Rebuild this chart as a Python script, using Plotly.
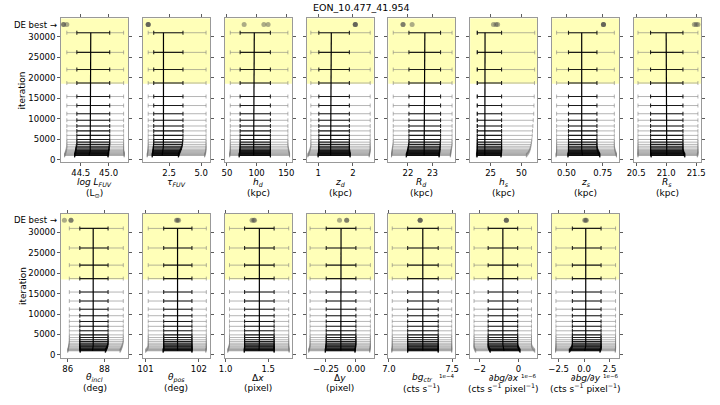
import plotly.graph_objects as go

# ---------------- data ----------------
TITLE = "EON_10.477_41.954"
ITER = [1000, 1150, 1300, 1500, 1700, 1950, 2200, 2500, 2850, 3250, 3700, 4250, 4900,
        5900, 7000, 8200, 9600, 11200, 13200, 15400, 18700, 22000, 26200, 31000]
DE_ITER = 33000
CONVERGED_FROM = 18500
Y_TICKS = [0, 5000, 10000, 15000, 20000, 25000, 30000]
Y_TICKTEXT = ["0", "5000", "10000", "15000", "20000", "25000", "30000"]

# log L_FUV
LFUV_MED = [44.65, 44.65, 44.66, 44.66, 44.66, 44.67, 44.67, 44.67, 44.67, 44.68, 44.68, 44.68, 44.68,
            44.68, 44.68, 44.68, 44.68, 44.68, 44.68, 44.68, 44.68, 44.68, 44.68, 44.68]
LFUV_LO1 = [44.39, 44.39, 44.40, 44.40, 44.40, 44.41, 44.41, 44.41, 44.42, 44.42, 44.43, 44.43, 44.43,
            44.43, 44.43, 44.43, 44.43, 44.43, 44.43, 44.43, 44.43, 44.43, 44.43, 44.43]
LFUV_HI1 = [44.99, 44.99, 44.99, 45.00, 45.00, 45.00, 45.00, 45.01, 45.01, 45.01, 45.02, 45.02, 45.02,
            45.02, 45.02, 45.02, 45.02, 45.02, 45.02, 45.02, 45.02, 45.02, 45.02, 45.02]
LFUV_LO2 = [44.21, 44.21, 44.22, 44.22, 44.23, 44.23, 44.24, 44.24, 44.25, 44.25, 44.25, 44.25, 44.25,
            44.25, 44.25, 44.25, 44.25, 44.25, 44.25, 44.25, 44.25, 44.25, 44.25, 44.25]
LFUV_HI2 = [45.28, 45.28, 45.28, 45.28, 45.28, 45.27, 45.27, 45.27, 45.27, 45.27, 45.27, 45.27, 45.27,
            45.27, 45.27, 45.27, 45.27, 45.27, 45.27, 45.27, 45.27, 45.27, 45.27, 45.27]
LFUV_DE = [44.19, 44.19, 44.25]

# tau_FUV
TAU_MED = [1.96, 1.97, 1.98, 1.99, 2.00, 2.01, 2.02, 2.03, 2.04, 2.05, 2.06, 2.06, 2.06,
           2.06, 2.06, 2.06, 2.06, 2.06, 2.06, 2.06, 2.06, 2.06, 2.06, 2.06]
TAU_LO1 = [1.18, 1.19, 1.20, 1.21, 1.22, 1.24, 1.25, 1.26, 1.27, 1.28, 1.29, 1.30, 1.30,
           1.30, 1.30, 1.30, 1.30, 1.30, 1.30, 1.30, 1.30, 1.30, 1.30, 1.30]
TAU_HI1 = [3.22, 3.24, 3.26, 3.28, 3.31, 3.34, 3.38, 3.42, 3.46, 3.50, 3.53, 3.55, 3.57,
           3.58, 3.58, 3.58, 3.58, 3.58, 3.58, 3.58, 3.58, 3.58, 3.58, 3.58]
TAU_LO2 = [0.79, 0.80, 0.81, 0.82, 0.83, 0.84, 0.85, 0.86, 0.86, 0.87, 0.87, 0.87, 0.87,
           0.87, 0.87, 0.87, 0.87, 0.87, 0.87, 0.87, 0.87, 0.87, 0.87, 0.87]
TAU_HI2 = [5.26, 5.28, 5.30, 5.32, 5.34, 5.35, 5.36, 5.37, 5.38, 5.38, 5.38, 5.38, 5.38,
           5.38, 5.38, 5.38, 5.38, 5.38, 5.38, 5.38, 5.38, 5.38, 5.38, 5.38]
TAU_DE = [0.87, 0.87, 0.87]

# h_d
HD_MED = [95.0, 95.0, 95.2, 95.4, 95.6, 95.8, 96.0, 96.1, 96.1, 96.1, 96.1, 96.1, 96.1,
          96.1, 96.1, 96.1, 96.1, 96.1, 96.1, 96.1, 96.1, 96.1, 96.1, 96.1]
HD_LO1 = [70.6, 70.8, 71.0, 71.2, 71.4, 71.6, 71.8, 72.0, 72.2, 72.2, 72.2, 72.2, 72.2,
          72.2, 72.2, 72.2, 72.2, 72.2, 72.2, 72.2, 72.2, 72.2, 72.2, 72.2]
HD_HI1 = [123.3, 123.3, 123.3, 123.3, 123.3, 123.3, 123.3, 123.3, 123.3, 123.3, 123.3, 123.3, 123.3,
          123.3, 123.3, 123.3, 123.3, 123.3, 123.3, 123.3, 123.3, 123.3, 123.3, 123.3]
HD_LO2 = [54.5, 54.6, 54.8, 55.0, 55.2, 55.4, 55.6, 55.6, 55.6, 55.6, 55.6, 55.6, 55.6,
          55.6, 55.6, 55.6, 55.6, 55.6, 55.6, 55.6, 55.6, 55.6, 55.6, 55.6]
HD_HI2 = [155.6, 155.6, 155.4, 155.2, 155.0, 154.6, 154.2, 153.8, 153.4, 153.0, 152.8, 152.8, 152.8,
          152.8, 152.8, 152.8, 152.8, 152.8, 152.8, 152.8, 152.8, 152.8, 152.8, 152.8]
HD_DE = [79.0, 112.3, 119.4]

# z_d
ZD_MED = [1.36, 1.36, 1.36, 1.37, 1.37, 1.37, 1.38, 1.38, 1.38, 1.38, 1.38, 1.38, 1.38,
          1.38, 1.38, 1.38, 1.38, 1.38, 1.38, 1.38, 1.38, 1.38, 1.38, 1.38]
ZD_LO1 = [1.00, 1.00, 1.01, 1.01, 1.01, 1.02, 1.02, 1.02, 1.02, 1.02, 1.02, 1.02, 1.02,
          1.02, 1.02, 1.02, 1.02, 1.02, 1.02, 1.02, 1.02, 1.02, 1.02, 1.02]
ZD_HI1 = [1.92, 1.92, 1.92, 1.91, 1.91, 1.91, 1.90, 1.90, 1.90, 1.90, 1.90, 1.90, 1.90,
          1.90, 1.90, 1.90, 1.90, 1.90, 1.90, 1.90, 1.90, 1.90, 1.90, 1.90]
ZD_LO2 = [0.70, 0.71, 0.72, 0.73, 0.74, 0.75, 0.76, 0.77, 0.78, 0.79, 0.79, 0.79, 0.79,
          0.79, 0.79, 0.79, 0.79, 0.79, 0.79, 0.79, 0.79, 0.79, 0.79, 0.79]
ZD_HI2 = [2.47, 2.47, 2.48, 2.48, 2.49, 2.49, 2.50, 2.50, 2.50, 2.50, 2.50, 2.50, 2.50,
          2.50, 2.50, 2.50, 2.50, 2.50, 2.50, 2.50, 2.50, 2.50, 2.50, 2.50]
ZD_DE = [2.07, 2.07, 2.07]

# R_d
RD_MED = [22.66, 22.66, 22.67, 22.67, 22.68, 22.68, 22.69, 22.69, 22.69, 22.69, 22.69, 22.69, 22.69,
          22.69, 22.69, 22.69, 22.69, 22.69, 22.69, 22.69, 22.69, 22.69, 22.69, 22.69]
RD_LO1 = [21.93, 21.94, 21.95, 21.96, 21.97, 21.98, 21.99, 22.00, 22.01, 22.02, 22.03, 22.04, 22.04,
          22.04, 22.04, 22.04, 22.04, 22.04, 22.04, 22.04, 22.04, 22.04, 22.04, 22.04]
RD_HI1 = [23.27, 23.27, 23.28, 23.28, 23.29, 23.29, 23.30, 23.30, 23.31, 23.31, 23.32, 23.32, 23.33,
          23.33, 23.33, 23.33, 23.33, 23.33, 23.33, 23.33, 23.33, 23.33, 23.33, 23.33]
RD_LO2 = [21.33, 21.33, 21.34, 21.34, 21.35, 21.35, 21.36, 21.36, 21.37, 21.38, 21.39, 21.40, 21.40,
          21.40, 21.40, 21.40, 21.40, 21.40, 21.40, 21.40, 21.40, 21.40, 21.40, 21.40]
RD_HI2 = [23.73, 23.73, 23.74, 23.74, 23.75, 23.75, 23.76, 23.77, 23.78, 23.79, 23.80, 23.80, 23.80,
          23.80, 23.80, 23.80, 23.80, 23.80, 23.80, 23.80, 23.80, 23.80, 23.80, 23.80]
RD_DE = [21.80, 21.80, 22.17]

# h_s
HS_MED = [20.3, 20.3, 20.4, 20.4, 20.5, 20.5, 20.5, 20.5, 20.5, 20.5, 20.5, 20.5, 20.5,
          20.5, 20.5, 20.5, 20.5, 20.5, 20.5, 20.5, 20.5, 20.5, 20.5, 20.5]
HS_LO1 = [14.0, 14.0, 14.1, 14.1, 14.2, 14.2, 14.3, 14.3, 14.3, 14.3, 14.3, 14.3, 14.3,
          14.3, 14.3, 14.3, 14.3, 14.3, 14.3, 14.3, 14.3, 14.3, 14.3, 14.3]
HS_HI1 = [33.4, 33.5, 33.6, 33.7, 33.8, 33.9, 33.9, 33.9, 33.9, 33.9, 33.9, 33.9, 33.9,
          33.9, 33.9, 33.9, 33.9, 33.9, 33.9, 33.9, 33.9, 33.9, 33.9, 33.9]
HS_LO2 = [13.5, 13.5, 13.6, 13.6, 13.7, 13.7, 13.7, 13.7, 13.7, 13.7, 13.7, 13.7, 13.7,
          13.7, 13.7, 13.7, 13.7, 13.7, 13.7, 13.7, 13.7, 13.7, 13.7, 13.7]
HS_HI2 = [54.0, 54.3, 54.8, 55.3, 55.8, 56.2, 56.6, 57.0, 57.3, 57.6, 57.9, 58.2, 58.5,
          58.8, 59.0, 59.3, 59.6, 60.0, 60.2, 60.4, 60.6, 60.7, 60.8, 60.8]
HS_DE = [27.3, 29.4, 30.7]

# z_s
ZS_MED = [0.610, 0.609, 0.608, 0.607, 0.606, 0.605, 0.605, 0.605, 0.605, 0.605, 0.605, 0.605, 0.605,
          0.605, 0.605, 0.605, 0.605, 0.605, 0.605, 0.605, 0.605, 0.605, 0.605, 0.605]
ZS_LO1 = [0.510, 0.511, 0.512, 0.513, 0.514, 0.514, 0.514, 0.514, 0.514, 0.514, 0.514, 0.514, 0.514,
          0.514, 0.514, 0.514, 0.514, 0.514, 0.514, 0.514, 0.514, 0.514, 0.514, 0.514]
ZS_HI1 = [0.730, 0.729, 0.727, 0.725, 0.722, 0.719, 0.716, 0.713, 0.711, 0.710, 0.710, 0.710, 0.710,
          0.710, 0.710, 0.710, 0.710, 0.710, 0.710, 0.710, 0.710, 0.710, 0.710, 0.710]
ZS_LO2 = [0.428, 0.429, 0.430, 0.431, 0.432, 0.432, 0.432, 0.432, 0.432, 0.432, 0.432, 0.432, 0.432,
          0.432, 0.432, 0.432, 0.432, 0.432, 0.432, 0.432, 0.432, 0.432, 0.432, 0.432]
ZS_HI2 = [0.845, 0.844, 0.843, 0.841, 0.839, 0.837, 0.835, 0.833, 0.831, 0.830, 0.830, 0.830, 0.830,
          0.830, 0.830, 0.830, 0.830, 0.830, 0.830, 0.830, 0.830, 0.830, 0.830, 0.830]
ZS_DE = [0.755, 0.755, 0.755]

# R_s
RS_MED = [21.01, 21.01, 21.01, 21.00, 21.00, 21.00, 21.00, 21.00, 21.00, 21.00, 21.00, 21.00, 21.00,
          21.00, 21.00, 21.00, 21.00, 21.00, 21.00, 21.00, 21.00, 21.00, 21.00, 21.00]
RS_LO1 = [20.75, 20.75, 20.74, 20.74, 20.74, 20.74, 20.74, 20.74, 20.74, 20.74, 20.74, 20.74, 20.74,
          20.74, 20.74, 20.74, 20.74, 20.74, 20.74, 20.74, 20.74, 20.74, 20.74, 20.74]
RS_HI1 = [21.31, 21.31, 21.30, 21.30, 21.29, 21.29, 21.28, 21.28, 21.28, 21.28, 21.28, 21.28, 21.28,
          21.28, 21.28, 21.28, 21.28, 21.28, 21.28, 21.28, 21.28, 21.28, 21.28, 21.28]
RS_LO2 = [20.53, 20.53, 20.53, 20.53, 20.53, 20.53, 20.53, 20.53, 20.53, 20.53, 20.53, 20.53, 20.53,
          20.53, 20.53, 20.53, 20.53, 20.53, 20.53, 20.53, 20.53, 20.53, 20.53, 20.53]
RS_HI2 = [21.52, 21.52, 21.53, 21.53, 21.53, 21.53, 21.53, 21.53, 21.53, 21.53, 21.53, 21.53, 21.53,
          21.53, 21.53, 21.53, 21.53, 21.53, 21.53, 21.53, 21.53, 21.53, 21.53, 21.53]
RS_DE = [21.47, 21.50, 21.53]

# theta_incl
TI_MED = [87.35, 87.36, 87.37, 87.38, 87.39, 87.39, 87.39, 87.39, 87.39, 87.39, 87.39, 87.39, 87.39,
          87.39, 87.39, 87.39, 87.39, 87.39, 87.39, 87.39, 87.39, 87.39, 87.39, 87.39]
TI_LO1 = [86.68, 86.68, 86.67, 86.67, 86.66, 86.66, 86.66, 86.66, 86.66, 86.66, 86.66, 86.66, 86.66,
          86.66, 86.66, 86.66, 86.66, 86.66, 86.66, 86.66, 86.66, 86.66, 86.66, 86.66]
TI_HI1 = [88.05, 88.07, 88.09, 88.11, 88.13, 88.15, 88.17, 88.19, 88.20, 88.20, 88.20, 88.20, 88.20,
          88.20, 88.20, 88.20, 88.20, 88.20, 88.20, 88.20, 88.20, 88.20, 88.20, 88.20]
TI_LO2 = [86.00, 86.01, 86.02, 86.03, 86.04, 86.05, 86.06, 86.07, 86.08, 86.09, 86.09, 86.09, 86.09,
          86.09, 86.09, 86.09, 86.09, 86.09, 86.09, 86.09, 86.09, 86.09, 86.09, 86.09]
TI_HI2 = [88.85, 88.87, 88.89, 88.91, 88.93, 88.95, 88.97, 88.99, 89.01, 89.03, 89.03, 89.03, 89.03,
          89.03, 89.03, 89.03, 89.03, 89.03, 89.03, 89.03, 89.03, 89.03, 89.03, 89.03]
TI_DE = [85.82, 86.18, 86.18]

# theta_pos
TP_MED = [101.60, 101.60, 101.60, 101.60, 101.60, 101.60, 101.60, 101.60, 101.60, 101.60, 101.60, 101.60, 101.60,
          101.60, 101.60, 101.60, 101.60, 101.60, 101.60, 101.60, 101.60, 101.60, 101.60, 101.60]
TP_LO1 = [101.33, 101.33, 101.34, 101.34, 101.34, 101.34, 101.34, 101.34, 101.34, 101.34, 101.34, 101.34, 101.34,
          101.34, 101.34, 101.34, 101.34, 101.34, 101.34, 101.34, 101.34, 101.34, 101.34, 101.34]
TP_HI1 = [101.87, 101.87, 101.87, 101.87, 101.87, 101.87, 101.87, 101.87, 101.87, 101.87, 101.87, 101.87, 101.87,
          101.87, 101.87, 101.87, 101.87, 101.87, 101.87, 101.87, 101.87, 101.87, 101.87, 101.87]
TP_LO2 = [101.00, 101.01, 101.02, 101.03, 101.04, 101.05, 101.05, 101.05, 101.05, 101.05, 101.05, 101.05, 101.05,
          101.05, 101.05, 101.05, 101.05, 101.05, 101.05, 101.05, 101.05, 101.05, 101.05, 101.05]
TP_HI2 = [102.13, 102.13, 102.14, 102.14, 102.14, 102.14, 102.14, 102.14, 102.14, 102.14, 102.14, 102.14, 102.14,
          102.14, 102.14, 102.14, 102.14, 102.14, 102.14, 102.14, 102.14, 102.14, 102.14, 102.14]
TP_DE = [101.58, 101.60, 101.62]

# delta x
DX_MED = [1.392, 1.393, 1.394, 1.395, 1.396, 1.396, 1.396, 1.396, 1.396, 1.396, 1.396, 1.396, 1.396,
          1.396, 1.396, 1.396, 1.396, 1.396, 1.396, 1.396, 1.396, 1.396, 1.396, 1.396]
DX_LO1 = [1.219, 1.220, 1.221, 1.222, 1.223, 1.223, 1.223, 1.223, 1.223, 1.223, 1.223, 1.223, 1.223,
          1.223, 1.223, 1.223, 1.223, 1.223, 1.223, 1.223, 1.223, 1.223, 1.223, 1.223]
DX_HI1 = [1.569, 1.569, 1.569, 1.569, 1.569, 1.569, 1.569, 1.569, 1.569, 1.569, 1.569, 1.569, 1.569,
          1.569, 1.569, 1.569, 1.569, 1.569, 1.569, 1.569, 1.569, 1.569, 1.569, 1.569]
DX_LO2 = [1.025, 1.028, 1.031, 1.034, 1.037, 1.040, 1.043, 1.046, 1.046, 1.046, 1.046, 1.046, 1.046,
          1.046, 1.046, 1.046, 1.046, 1.046, 1.046, 1.046, 1.046, 1.046, 1.046, 1.046]
DX_HI2 = [1.745, 1.745, 1.744, 1.743, 1.742, 1.741, 1.740, 1.740, 1.740, 1.740, 1.740, 1.740, 1.740,
          1.740, 1.740, 1.740, 1.740, 1.740, 1.740, 1.740, 1.740, 1.740, 1.740, 1.740]
DX_DE = [1.31, 1.33, 1.34]

# delta y
DY_MED = [-0.126, -0.126, -0.125, -0.125, -0.124, -0.124, -0.124, -0.124, -0.124, -0.124, -0.124, -0.124, -0.124,
          -0.124, -0.124, -0.124, -0.124, -0.124, -0.124, -0.124, -0.124, -0.124, -0.124, -0.124]
DY_LO1 = [-0.256, -0.255, -0.254, -0.253, -0.252, -0.251, -0.250, -0.249, -0.248, -0.248, -0.248, -0.248, -0.248,
          -0.248, -0.248, -0.248, -0.248, -0.248, -0.248, -0.248, -0.248, -0.248, -0.248, -0.248]
DY_HI1 = [-0.008, -0.007, -0.006, -0.005, -0.004, -0.003, -0.002, -0.001, 0.000, 0.000, 0.000, 0.000, 0.000,
          0.000, 0.000, 0.000, 0.000, 0.000, 0.000, 0.000, 0.000, 0.000, 0.000, 0.000]
DY_LO2 = [-0.395, -0.393, -0.391, -0.389, -0.387, -0.385, -0.384, -0.383, -0.383, -0.383, -0.383, -0.383, -0.383,
          -0.383, -0.383, -0.383, -0.383, -0.383, -0.383, -0.383, -0.383, -0.383, -0.383, -0.383]
DY_HI2 = [0.115, 0.116, 0.117, 0.118, 0.119, 0.120, 0.121, 0.121, 0.121, 0.121, 0.121, 0.121, 0.121,
          0.121, 0.121, 0.121, 0.121, 0.121, 0.121, 0.121, 0.121, 0.121, 0.121, 0.121]
DY_DE = [-0.137, -0.077, -0.077]

# bg_ctr (units of 1e-4)
BG_MED = [7.268, 7.268, 7.268, 7.268, 7.268, 7.268, 7.268, 7.268, 7.268, 7.268, 7.268, 7.268, 7.268,
          7.268, 7.268, 7.268, 7.268, 7.268, 7.268, 7.268, 7.268, 7.268, 7.268, 7.268]
BG_LO1 = [7.148, 7.148, 7.148, 7.148, 7.148, 7.148, 7.148, 7.148, 7.148, 7.148, 7.148, 7.148, 7.148,
          7.148, 7.148, 7.148, 7.148, 7.148, 7.148, 7.148, 7.148, 7.148, 7.148, 7.148]
BG_HI1 = [7.390, 7.390, 7.390, 7.390, 7.390, 7.390, 7.390, 7.390, 7.390, 7.390, 7.390, 7.390, 7.390,
          7.390, 7.390, 7.390, 7.390, 7.390, 7.390, 7.390, 7.390, 7.390, 7.390, 7.390]
BG_LO2 = [7.022, 7.023, 7.024, 7.025, 7.026, 7.026, 7.026, 7.026, 7.026, 7.026, 7.026, 7.026, 7.026,
          7.026, 7.026, 7.026, 7.026, 7.026, 7.026, 7.026, 7.026, 7.026, 7.026, 7.026]
BG_HI2 = [7.497, 7.497, 7.497, 7.497, 7.497, 7.497, 7.497, 7.497, 7.497, 7.497, 7.497, 7.497, 7.497,
          7.497, 7.497, 7.497, 7.497, 7.497, 7.497, 7.497, 7.497, 7.497, 7.497, 7.497]
BG_DE = [7.247, 7.247, 7.247]

# d bg / dx (units of 1e-6)
DBX_MED = [-0.74, -0.75, -0.76, -0.77, -0.78, -0.79, -0.80, -0.80, -0.80, -0.80, -0.80, -0.80, -0.80,
           -0.80, -0.80, -0.80, -0.80, -0.80, -0.80, -0.80, -0.80, -0.80, -0.80, -0.80]
DBX_LO1 = [-1.45, -1.47, -1.49, -1.51, -1.53, -1.55, -1.56, -1.56, -1.56, -1.56, -1.56, -1.56, -1.56,
           -1.56, -1.56, -1.56, -1.56, -1.56, -1.56, -1.56, -1.56, -1.56, -1.56, -1.56]
DBX_HI1 = [0.09, 0.07, 0.05, 0.03, 0.01, -0.01, -0.03, -0.035, -0.035, -0.035, -0.035, -0.035, -0.035,
           -0.035, -0.035, -0.035, -0.035, -0.035, -0.035, -0.035, -0.035, -0.035, -0.035, -0.035]
DBX_LO2 = [-2.20, -2.22, -2.24, -2.26, -2.28, -2.29, -2.29, -2.29, -2.29, -2.29, -2.29, -2.29, -2.29,
           -2.29, -2.29, -2.29, -2.29, -2.29, -2.29, -2.29, -2.29, -2.29, -2.29, -2.29]
DBX_HI2 = [0.85, 0.83, 0.80, 0.77, 0.74, 0.71, 0.69, 0.68, 0.68, 0.68, 0.68, 0.68, 0.68,
           0.68, 0.68, 0.68, 0.68, 0.68, 0.68, 0.68, 0.68, 0.68, 0.68, 0.68]
DBX_DE = [-0.62, -0.62, -0.62]

# d bg / dy (units of 1e-6)
DBY_MED = [0.06, 0.08, 0.10, 0.12, 0.14, 0.16, 0.16, 0.16, 0.16, 0.16, 0.16, 0.16, 0.16,
           0.16, 0.16, 0.16, 0.16, 0.16, 0.16, 0.16, 0.16, 0.16, 0.16, 0.16]
DBY_LO1 = [-1.45, -1.40, -1.35, -1.30, -1.25, -1.20, -1.17, -1.15, -1.15, -1.15, -1.15, -1.15, -1.15,
           -1.15, -1.15, -1.15, -1.15, -1.15, -1.15, -1.15, -1.15, -1.15, -1.15, -1.15]
DBY_HI1 = [1.55, 1.58, 1.61, 1.64, 1.66, 1.66, 1.66, 1.66, 1.66, 1.66, 1.66, 1.66, 1.66,
           1.66, 1.66, 1.66, 1.66, 1.66, 1.66, 1.66, 1.66, 1.66, 1.66, 1.66]
DBY_LO2 = [-2.80, -2.79, -2.78, -2.77, -2.76, -2.76, -2.76, -2.76, -2.76, -2.76, -2.76, -2.76, -2.76,
           -2.76, -2.76, -2.76, -2.76, -2.76, -2.76, -2.76, -2.76, -2.76, -2.76, -2.76]
DBY_HI2 = [3.05, 3.06, 3.07, 3.08, 3.08, 3.08, 3.08, 3.08, 3.08, 3.08, 3.08, 3.08, 3.08,
           3.08, 3.08, 3.08, 3.08, 3.08, 3.08, 3.08, 3.08, 3.08, 3.08, 3.08]
DBY_DE = [0.06, 0.15, 0.22]

# axis labels and ticks
PANELS = [
    ("<i>log L<sub>FUV</sub></i>", "(L<sub>⊙</sub>)", [44.5, 45.0], ["44.5", "45.0"], None,
     (LFUV_MED, LFUV_LO1, LFUV_HI1, LFUV_LO2, LFUV_HI2, LFUV_DE), [44.147, 45.353]),
    ("<i>τ<sub>FUV</sub></i>", "", [2.5, 5.0], ["2.5", "5.0"], None,
     (TAU_MED, TAU_LO1, TAU_HI1, TAU_LO2, TAU_HI2, TAU_DE), [0.457, 5.69]),
    ("<i>h<sub>d</sub></i>", "(kpc)", [50, 100, 150], ["50", "100", "150"], None,
     (HD_MED, HD_LO1, HD_HI1, HD_LO2, HD_HI2, HD_DE), [46.2, 159.5]),
    ("<i>z<sub>d</sub></i>", "(kpc)", [1, 2], ["1", "2"], None,
     (ZD_MED, ZD_LO1, ZD_HI1, ZD_LO2, ZD_HI2, ZD_DE), [0.666, 2.6]),
    ("<i>R<sub>d</sub></i>", "(kpc)", [22, 23], ["22", "23"], None,
     (RD_MED, RD_LO1, RD_HI1, RD_LO2, RD_HI2, RD_DE), [21.2, 23.94]),
    ("<i>h<sub>s</sub></i>", "(kpc)", [25, 50], ["25", "50"], None,
     (HS_MED, HS_LO1, HS_HI1, HS_LO2, HS_HI2, HS_DE), [8.4, 62.9]),
    ("<i>z<sub>s</sub></i>", "(kpc)", [0.5, 0.75], ["0.50", "0.75"], None,
     (ZS_MED, ZS_LO1, ZS_HI1, ZS_LO2, ZS_HI2, ZS_DE), [0.40, 0.863]),
    ("<i>R<sub>s</sub></i>", "(kpc)", [20.5, 21.0, 21.5], ["20.5", "21.0", "21.5"], None,
     (RS_MED, RS_LO1, RS_HI1, RS_LO2, RS_HI2, RS_DE), [20.46, 21.58]),
    ("<i>θ<sub>incl</sub></i>", "(deg)", [86, 88], ["86", "88"], None,
     (TI_MED, TI_LO1, TI_HI1, TI_LO2, TI_HI2, TI_DE), [85.64, 89.3]),
    ("<i>θ<sub>pos</sub></i>", "(deg)", [101, 102], ["101", "102"], None,
     (TP_MED, TP_LO1, TP_HI1, TP_LO2, TP_HI2, TP_DE), [100.95, 102.21]),
    ("Δ<i>x</i>", "(pixel)", [1.0, 1.5], ["1.0", "1.5"], None,
     (DX_MED, DX_LO1, DX_HI1, DX_LO2, DX_HI2, DX_DE), [0.99, 1.777]),
    ("Δ<i>y</i>", "(pixel)", [-0.25, 0.0], ["−0.25", "0.00"], None,
     (DY_MED, DY_LO1, DY_HI1, DY_LO2, DY_HI2, DY_DE), [-0.4125, 0.1485]),
    ("<i>bg<sub>ctr</sub></i>", "(cts s<sup>−1</sup>)", [7.0, 7.5], ["7.0", "7.5"], "1e−4",
     (BG_MED, BG_LO1, BG_HI1, BG_LO2, BG_HI2, BG_DE), [6.995, 7.527]),
    ("<i>∂bg/∂x</i>", "(cts s<sup>−1</sup> pixel<sup>−1</sup>)", [-2, 0], ["−2", "0"], "1e−6",
     (DBX_MED, DBX_LO1, DBX_HI1, DBX_LO2, DBX_HI2, DBX_DE), [-2.49, 0.98]),
    ("<i>∂bg/∂y</i>", "(cts s<sup>−1</sup> pixel<sup>−1</sup>)", [-2.5, 0.0, 2.5], ["−2.5", "0.0", "2.5"], "1e−6",
     (DBY_MED, DBY_LO1, DBY_HI1, DBY_LO2, DBY_HI2, DBY_DE), [-3.15, 3.43]),
]

# ---------------- layout geometry (pixels of the 720x405 window) ----------------
W, H = 720, 405
LEFT0, PITCH, PW = 55.0, 83.2, 68.3
ROW_TOP = [18.3, 215.0]
ROW_BOT = [163.0, 359.3]
Y_RANGE = [-650, 34550]
FONT = "DejaVu Sans"

GRAY = "rgba(120,120,120,0.55)"
BLACK = "rgba(0,0,0,0.85)"
YELLOW = "#ffffb8"
DE_COLOR = "rgba(70,70,70,0.45)"


def fx(px):
    return px / W


def fy(py):
    return 1 - py / H


fig = go.Figure()
annotations = []
shapes = []
layout_axes = {}

for k, (t1, t2, tv, tt, off, series, xr) in enumerate(PANELS):
    med, lo1, hi1, lo2, hi2, de = series
    n = k + 1
    row, col = divmod(k, 8)
    xa = "x" if n == 1 else f"x{n}"
    ya = "y" if n == 1 else f"y{n}"
    left = LEFT0 + PITCH * col
    right = left + PW
    top, bot = ROW_TOP[row], ROW_BOT[row]

    # 2-sigma (gray) bars
    fig.add_trace(go.Scatter(
        x=med, y=ITER, mode="markers", xaxis=xa, yaxis=ya,
        marker=dict(size=1, color="rgba(0,0,0,0)"),
        error_x=dict(type="data", symmetric=False,
                     array=[h - m for h, m in zip(hi2, med)],
                     arrayminus=[m - l for m, l in zip(med, lo2)],
                     color=GRAY, thickness=1.0, width=2),
        hoverinfo="skip", showlegend=False))
    # 1-sigma (black) bars
    fig.add_trace(go.Scatter(
        x=med, y=ITER, mode="markers", xaxis=xa, yaxis=ya,
        marker=dict(size=1, color="rgba(0,0,0,0)"),
        error_x=dict(type="data", symmetric=False,
                     array=[h - m for h, m in zip(hi1, med)],
                     arrayminus=[m - l for m, l in zip(med, lo1)],
                     color=BLACK, thickness=1.1, width=2),
        hoverinfo="skip", showlegend=False))
    # median track
    fig.add_trace(go.Scatter(
        x=med, y=ITER, mode="lines", xaxis=xa, yaxis=ya,
        line=dict(color="black", width=1.2),
        hoverinfo="skip", showlegend=False))
    # DE best points
    fig.add_trace(go.Scatter(
        x=de, y=[DE_ITER for _ in de], mode="markers", xaxis=xa, yaxis=ya,
        marker=dict(size=5, color=DE_COLOR, line=dict(width=0)),
        hoverinfo="skip", showlegend=False))

    shapes.append(dict(type="rect", xref=f"{xa} domain", yref=ya,
                       x0=0, x1=1, y0=CONVERGED_FROM, y1=Y_RANGE[1],
                       fillcolor=YELLOW, line=dict(width=0), layer="below"))

    common = dict(ticks="outside", ticklen=3, tickwidth=0.8, tickcolor="#333",
                  showline=True, linecolor="#999", linewidth=1, mirror="ticks",
                  showgrid=False, zeroline=False,
                  tickfont=dict(family=FONT, size=8.5, color="black"))
    xname = "xaxis" if n == 1 else f"xaxis{n}"
    yname = "yaxis" if n == 1 else f"yaxis{n}"
    layout_axes[xname] = dict(domain=[fx(left), fx(right)], range=xr, anchor=ya,
                              tickmode="array", tickvals=tv, ticktext=tt, **common)
    layout_axes[yname] = dict(domain=[fy(bot), fy(top)], range=Y_RANGE, anchor=xa,
                              tickmode="array", tickvals=Y_TICKS, ticktext=Y_TICKTEXT,
                              showticklabels=(col == 0), **common)

    cx = (left + right) / 2
    annotations.append(dict(text=t1, x=fx(cx), y=fy(bot + 20.5), xref="paper", yref="paper",
                            xanchor="center", yanchor="middle", showarrow=False,
                            font=dict(family=FONT, size=9, color="black")))
    if t2:
        annotations.append(dict(text=t2, x=fx(cx), y=fy(bot + 31.0), xref="paper", yref="paper",
                                xanchor="center", yanchor="middle", showarrow=False,
                                font=dict(family=FONT, size=9, color="black")))
    if off:
        annotations.append(dict(text=off, x=fx(right + 0.5), y=fy(bot + 18.5), xref="paper", yref="paper",
                                xanchor="right", yanchor="middle", showarrow=False,
                                font=dict(family=FONT, size=5.5, color="black")))
    if col == 0:
        annotations.append(dict(text="iteration", x=fx(15.5), y=fy((top + bot) / 2),
                                xref="paper", yref="paper", textangle=-90,
                                xanchor="center", yanchor="middle", showarrow=False,
                                font=dict(family=FONT, size=9, color="black")))
        de_py = top + (Y_RANGE[1] - DE_ITER) / (Y_RANGE[1] - Y_RANGE[0]) * (bot - top)
        annotations.append(dict(text="DE best →", x=fx(left - 2), y=fy(de_py),
                                xref="paper", yref="paper",
                                xanchor="right", yanchor="middle", showarrow=False,
                                font=dict(family=FONT, size=8.5, color="black")))

annotations.append(dict(text=TITLE, x=fx(360), y=fy(7.5), xref="paper", yref="paper",
                        xanchor="center", yanchor="middle", showarrow=False,
                        font=dict(family=FONT, size=9.5, color="black")))

fig.update_layout(width=W, height=H, margin=dict(l=0, r=0, t=0, b=0),
                  paper_bgcolor="white", plot_bgcolor="white",
                  shapes=shapes, annotations=annotations, showlegend=False,
                  font=dict(family=FONT), **layout_axes)

fig.write_html("out.html",
               config={"displayModeBar": False, "staticPlot": True},
               post_script="document.body.style.margin='0px';document.body.style.padding='0px';"
                           "document.body.style.overflow='hidden';")
